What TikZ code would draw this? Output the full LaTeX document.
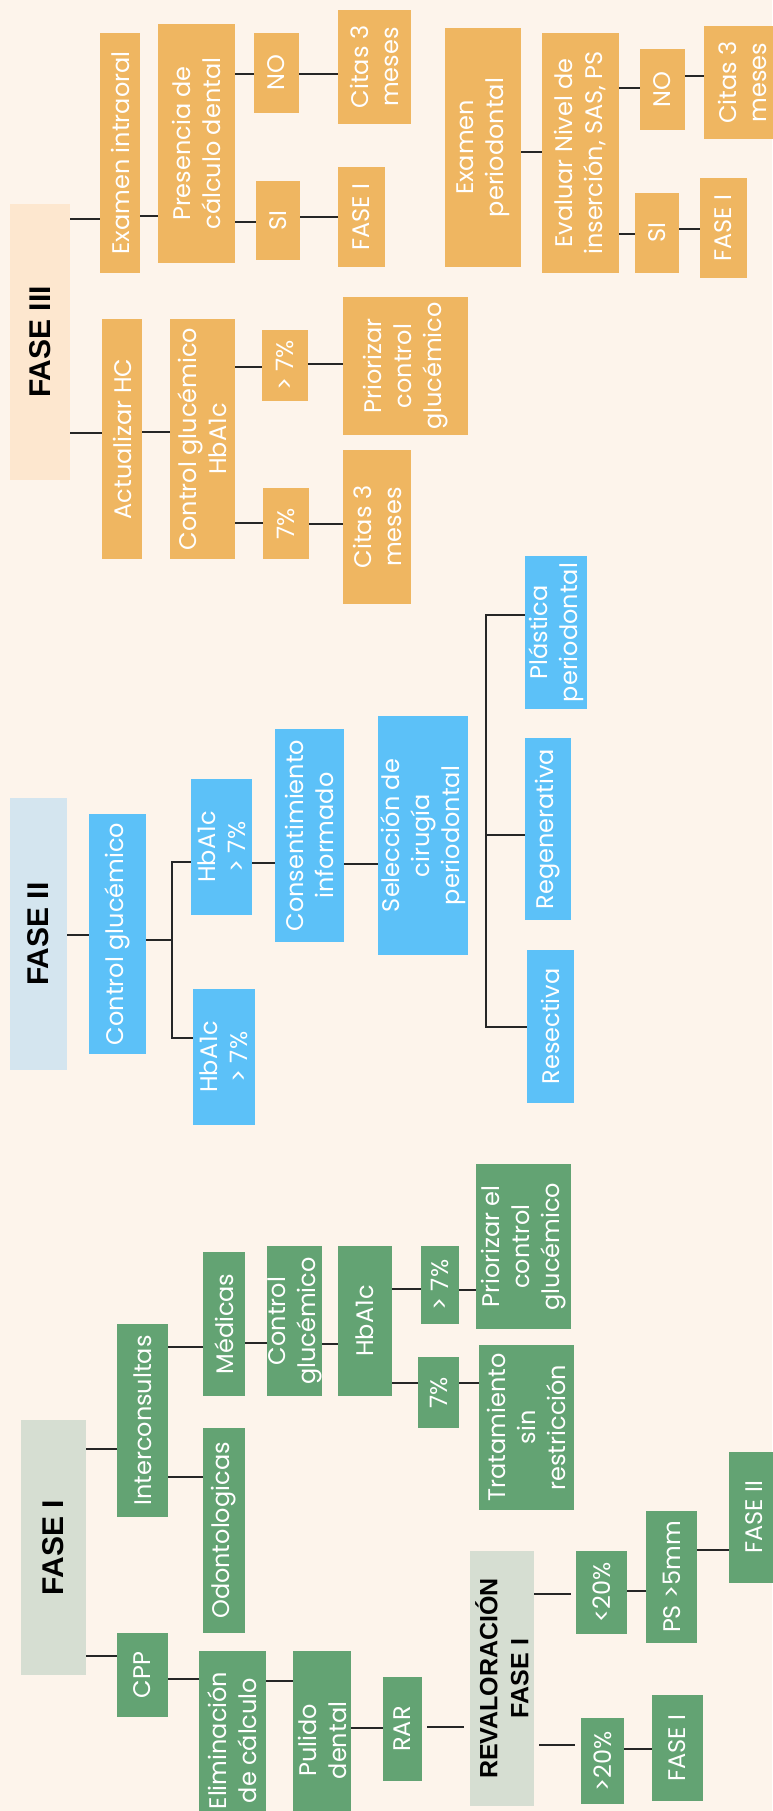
\documentclass[tikz,border=0pt]{standalone}
\usepackage{fontspec}
\setmainfont{Poppins}
\newfontfamily\headfam{Liberation Sans}
\usetikzlibrary{positioning,calc}

\definecolor{bgcream}{HTML}{FDF4EB}
\definecolor{orangebox}{HTML}{EFB661}
\definecolor{bluebox}{HTML}{5CC1F8}
\definecolor{greenbox}{HTML}{63A373}
\definecolor{headorange}{HTML}{FDE7CF}
\definecolor{headblue}{HTML}{D4E5EF}
\definecolor{headgreen}{HTML}{D6DED2}
\definecolor{linkgray}{HTML}{262626}

\tikzset{
	box/.style={rectangle, inner sep=0pt, rotate=90, align=center, text=white,
		font=\fontsize{24}{30}\selectfont},
	obox/.style={box, fill=orangebox},
	bbox/.style={box, fill=bluebox},
	gbox/.style={box, fill=greenbox},
	head/.style={box, text=black, font=\headfam\bfseries\fontsize{30}{32}\selectfont},
	wh/.style 2 args={minimum height=#1pt, minimum width=#2pt},
	conn/.style={draw=linkgray, line width=2.5pt},
	gap/.style={shorten <=5pt, shorten >=6pt},
}
\newcommand{\linkat}[4][]{\draw[conn,#1] (#2.south |- 0,#4) -- (#3.north |- 0,#4);}

\begin{document}
\begin{tikzpicture}[x=1pt, y=-1pt]
	\useasboundingbox (0,0) rectangle (772,1811);
	\fill[bgcream] (0,0) rectangle (772,1811);

	% FASE III
	\node[head, fill=headorange, wh={60}{276}] (f3) at (40, 342) {FASE III};
	\node[obox, wh={40}{240}] (exi) at (120, 153) {Examen intraoral};
	\node[obox, wh={77}{239}] (pcd) at (196.5, 143.5) {Presencia de\\cálculo dental};
	\node[obox, wh={45}{80}] (no1) at (276.5, 73) {NO};
	\node[obox, wh={44}{79}] (si1) at (278, 220.5) {SI};
	\node[obox, wh={73}{114}] (cit1) at (374.5, 67) {Citas 3\\meses};
	\node[obox, wh={47}{100}] (fi1) at (361.5, 217) {FASE I};
	\node[obox, wh={40}{240}] (ahc) at (122, 439) {Actualizar HC};
	\node[obox, wh={65}{240}] (cgh) at (202.5, 439) {Control glucémico\\HbA1c};
	\node[obox, wh={46}{71}] (gt1) at (285, 365.5) {> 7\%};
	\node[obox, wh={46}{71}] (eq1) at (286, 523.5) {7\%};
	\node[obox, wh={125}{138}] (pri1) at (405.5, 366) {Priorizar\\control\\glucémico};
	\node[obox, wh={68}{154}] (cit2) at (377, 527) {Citas 3\\meses};
	\node[obox, wh={76}{239}] (exp) at (483, 147.5) {Examen\\periodontal};
	\node[obox, wh={77}{240}] (enl) at (580.5, 153) {Evaluar Nivel de\\inserción, SAS, PS};
	\node[obox, wh={45}{81}] (no2) at (662.5, 89.5) {NO};
	\node[obox, wh={44}{80}] (si2) at (657, 233) {SI};
	\node[obox, wh={76}{113}] (cit3) at (742, 82.5) {Citas 3\\meses};
	\node[obox, wh={47}{100}] (fi2) at (723.5, 228) {FASE I};

	\linkat{f3}{exi}{219}
	\linkat{f3}{ahc}{433}
	\linkat{exi}{pcd}{216}
	\linkat{ahc}{cgh}{432}
	\linkat{pcd}{no1}{74}
	\linkat{pcd}{si1}{222}
	\linkat{no1}{cit1}{74}
	\linkat{si1}{fi1}{217}
	\linkat{cgh}{gt1}{367}
	\linkat{cgh}{eq1}{523}
	\linkat{gt1}{pri1}{364}
	\linkat{eq1}{cit2}{524}
	\linkat{exp}{enl}{152}
	\linkat{enl}{no2}{88}
	\linkat{enl}{si2}{234}
	\linkat{no2}{cit3}{76}
	\linkat{si2}{fi2}{229}

	% FASE II
	\node[head, fill=headblue, wh={57}{272}] (f2) at (38.5, 934) {FASE II};
	\node[bbox, wh={57}{240}] (cg2) at (117.5, 934) {Control glucémico};
	\node[bbox, wh={61}{136}] (hb2a) at (221.5, 847) {HbA1c\\> 7\%};
	\node[bbox, wh={62}{136}] (hb2b) at (224, 1057) {HbA1c\\> 7\%};
	\node[bbox, wh={69}{213}] (ci) at (309.5, 835.5) {Consentimiento\\informado};
	\node[bbox, wh={90}{239}] (sel) at (423, 835.5) {Selección de\\cirugía\\periodontal};
	\node[bbox, wh={62}{153}] (pla) at (556, 632.5) {Plástica\\periodontal};
	\node[bbox, wh={46}{182}] (reg) at (548, 829) {Regenerativa};
	\node[bbox, wh={47}{153}] (res) at (550.5, 1026.5) {Resectiva};
	\coordinate (j2) at (172, 940);
	\coordinate (j3) at (486, 835);

	\linkat{f2}{cg2}{935}
	\draw[conn] (cg2.south |- j2) -- (j2);
	\draw[conn] (hb2a.north |- 0,862) -| (j2) |- (hb2b.north |- 0,1038);
	\linkat{hb2a}{ci}{863}
	\linkat{ci}{sel}{864}
	\draw[conn] (pla.north |- 0,615) -| (j3) |- (res.north |- 0,1027);
	\draw[conn] (reg.north |- j3) -- (j3);

	% FASE I
	\node[head, fill=headgreen, wh={65}{255}] (f1) at (53.5, 1547.5) {FASE I};
	\node[gbox, wh={51}{193}] (int) at (142.5, 1420.5) {Interconsultas};
	\node[gbox, wh={51}{84}] (cpp) at (142.5, 1675) {CPP};
	\node[gbox, wh={42}{144}] (med) at (224, 1324) {Médicas};
	\node[gbox, wh={42}{205}] (odo) at (224, 1530.5) {Odontologicas};
	\node[gbox, wh={55}{150}] (cg1) at (294.5, 1321) {Control\\glucémico};
	\node[gbox, wh={54}{150}] (hb1) at (365, 1321) {HbA1c};
	\node[gbox, wh={38}{78}] (gt3) at (440, 1285) {> 7\%};
	\node[gbox, wh={41}{71}] (eq3) at (438.5, 1392.5) {7\%};
	\node[gbox, wh={95}{165}] (pri3) at (523.5, 1246.5) {Priorizar el\\control\\glucémico};
	\node[gbox, wh={95}{165}] (tra) at (526.5, 1427.5) {Tratamiento\\sin\\restricción};
	\node[gbox, wh={67}{179}] (eli) at (232.5, 1740.5) {Eliminación\\de cálculo};
	\node[gbox, wh={58}{179}] (pul) at (322, 1740.5) {Pulido\\dental};
	\node[gbox, wh={39}{104}] (rar) at (402.5, 1729) {RAR};
	\node[head, fill=headgreen, wh={64}{255},
		font=\headfam\bfseries\fontsize{25}{31}\selectfont] (rev) at (502, 1678.5) {REVALORACIÓN\\FASE I};
	\node[gbox, wh={51}{83}] (lt) at (601.5, 1592.5) {<20\%};
	\node[gbox, wh={43}{86}] (gt20) at (602.5, 1761) {>20\%};
	\node[gbox, wh={51}{132}] (ps) at (671.5, 1577) {PS >5mm};
	\node[gbox, wh={51}{106}] (fi3) at (677.5, 1748) {FASE I};
	\node[gbox, wh={51}{131}] (fii) at (754.5, 1517.5) {FASE II};

	\linkat{f1}{int}{1449}
	\linkat{f1}{cpp}{1656}
	\linkat{int}{med}{1347}
	\linkat{int}{odo}{1477}
	\linkat{med}{cg1}{1343}
	\linkat{cg1}{hb1}{1344}
	\linkat{hb1}{gt3}{1289}
	\linkat{hb1}{eq3}{1383}
	\linkat{gt3}{pri3}{1290}
	\linkat{eq3}{tra}{1383}
	\linkat{cpp}{eli}{1679}
	\linkat{eli}{pul}{1681}
	\linkat{pul}{rar}{1728}
	\linkat[gap]{rar}{rev}{1727}
	\linkat[shorten >=5pt]{rev}{lt}{1594}
	\linkat[gap]{rev}{gt20}{1745}
	\linkat{lt}{ps}{1591}
	\linkat{gt20}{fi3}{1749}
	\linkat{ps}{fii}{1550}
\end{tikzpicture}
\end{document}
